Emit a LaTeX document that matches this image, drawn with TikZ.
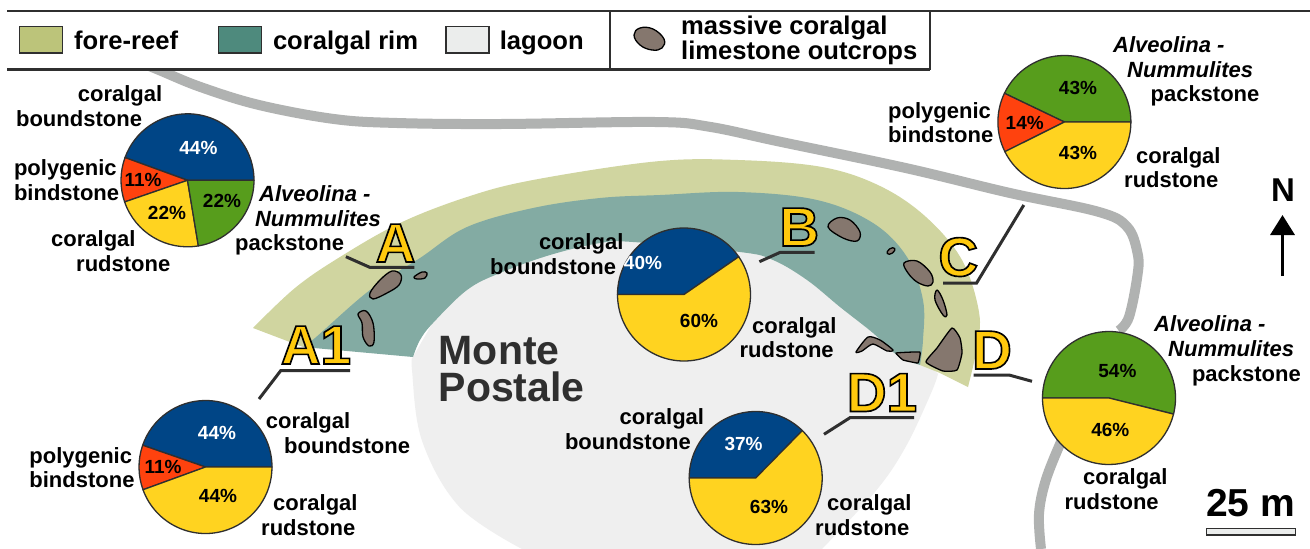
\documentclass[tikz,border=0pt]{standalone}
\usepackage{fontspec}
\setmainfont{Liberation Sans}
\usetikzlibrary{arrows.meta}
\definecolor{fore}{HTML}{D0D5A0}
\definecolor{rim}{HTML}{83ABA3}
\definecolor{lag}{HTML}{EFEFEF}
\definecolor{foreL}{HTML}{BCC47A}
\definecolor{rimL}{HTML}{4E8A7D}
\definecolor{lagL}{HTML}{EBEDEC}
\definecolor{road}{HTML}{B0B2B1}
\definecolor{rock}{HTML}{85776E}
\definecolor{dk}{HTML}{2F2F2F}
\definecolor{pblue}{HTML}{004586}
\definecolor{pred}{HTML}{FF420E}
\definecolor{pyel}{HTML}{FFD320}
\definecolor{pgreen}{HTML}{579D1C}
\newfontfamily\outfont[BoldFeatures={FakeBold=3}]{Liberation Sans}
\newcommand{\outl}[1]{{\outfont\bfseries\fontsize{55}{55}\selectfont\special{pdf:bcolor [1 0.79 0.05] [0 0 0]}#1\special{pdf:ecolor}}}
\newcommand{\piesl}[5]{\filldraw[fill=#5,pieline] (#1) -- +(-#2:#4) arc (-#2:-#3:#4) -- cycle;}
\tikzset{
  x=1pt,y=-1pt,
  lbl/.style={anchor=base west,inner sep=0pt,font=\fontsize{22}{24}\selectfont\bfseries},
  lgd/.style={anchor=base west,inner sep=0pt,font=\fontsize{25.6}{28}\selectfont\bfseries},
  pct/.style={anchor=center,inner sep=0pt,font=\fontsize{19}{20}\selectfont\bfseries},
  pctw/.style={pct,text=white},
  letter/.style={anchor=base,inner sep=0pt},
  pieline/.style={draw=dk,line width=1.3pt,line join=round},
  rockst/.style={fill=rock,draw=black,line width=1.3pt,line join=round},
  swatch/.style={draw=dk,line width=1.5pt},
  callout/.style={draw=dk,line width=3pt},
  frame/.style={draw=dk,line width=2pt},
  roadst/.style={draw=road,line width=10pt},
}
\begin{document}
\begin{tikzpicture}
\useasboundingbox (0,0) rectangle (1310,549);
\fill[white] (0,0) rectangle (1310,549);
% map
\fill[lag] (413,357) -- plot[smooth,tension=.6] coordinates {(413,357) (412,370) (422,440.7) (459.5,507) (522,549)} -- (822,549) -- plot[smooth,tension=.6] coordinates {(822,549) (876,490.7) (905.6,447) (930.7,394) (938,374)} -- (920,355) -- (840,295) -- (740,240) -- (600,230) -- (500,260) -- (440,310) -- cycle;
\fill[fore] plot[smooth,tension=.6] coordinates {(253,328) (295,288) (340,257) (400,223) (467,197) (533,180) (655,161.5) (738,160) (822,167) (880,186) (926,217) (962,260) (979,312) (977,347) (968,387)} -- (940,373) -- (920,365) -- (880,290) -- (700,220) -- (500,240) -- (380,310) -- (303,347) -- cycle;
\fill[rim] plot[smooth,tension=.6] coordinates {(303,347) (315,338) (370,290) (420,258) (467,227) (533,208) (600,198) (660,195) (738.5,192) (817,200) (873,223) (907,257) (923,300) (923,340) (920,365)} -- plot[smooth,tension=.6] coordinates {(920,365) (897,355) (873,333) (840,307) (807,280) (773,260) (740,252) (633,242) (600,243) (550,255) (500,273) (467,290) (433,323) (420,340) (413,357)} -- cycle;
% road
\begin{scope}
\clip (0,70) rectangle (1310,549);
\draw[roadst] plot[smooth,tension=.6] coordinates {(130,58) (159,70) (200.5,87) (259,105) (334,119) (397,123) (501,124) (655,122) (709,126.7) (780,141.7) (905.6,168) (1010,193) (1098,211.7) (1127,226.7) (1137.5,253) (1137.5,275) (1129,317) (1118.7,330.7)};
\end{scope}
\draw[roadst] plot[smooth,tension=.6] coordinates {(1065,435) (1060,444) (1045.6,480.7) (1039,514) (1041,549)};
% rocks
\draw[rockst] plot[smooth cycle,tension=.6] coordinates {(370,293) (380,280) (392,271) (401,275) (399,285) (387,293) (373,299)};
\draw[rockst] plot[smooth cycle,tension=.6] coordinates {(414,277) (422,272) (427,273) (425,278) (417,279)};
\draw[rockst] plot[smooth cycle,tension=.6] coordinates {(358,314) (366,311) (373,323) (374,342) (369,346) (363,337) (362,323)};
\draw[rockst] plot[smooth cycle,tension=.6] coordinates {(828,227) (837,218) (850,220) (860,232) (857,241) (843,238)};
\draw[rockst,rotate around={35:(891,251)}] (891,251) ellipse (4.5 and 2.5);
\draw[rockst] plot[smooth cycle,tension=.6] coordinates {(904,263) (917,261) (930,272) (933,282) (928,286) (917,282) (908,273)};
\draw[rockst] plot[smooth cycle,tension=.6] coordinates {(937,290) (943,300) (947,315) (943,315) (935,300)};
\draw[rockst] plot[smooth cycle,tension=.3] coordinates {(926,362) (937,348) (952,328) (960,338) (962,353) (957,370) (943,371)};
\draw[rockst] plot[smooth cycle,tension=.4] coordinates {(856,352) (868,337) (880,340) (893,350) (887,351) (873,344) (862,351)};
\draw[rockst] plot[smooth cycle,tension=.15] coordinates {(896,353) (920,352) (918,363) (903,360)};
\draw[rockst] plot[smooth cycle,tension=.7] coordinates {(634,35) (640,28) (653,29) (664,39) (662,48) (652,50) (640,45)};
% legend frame
\coordinate (ftl) at (7,10.5); \coordinate (ftr) at (1310,10.5);
\coordinate (fbl) at (7,69.7); \coordinate (fbr) at (929.5,69.7);
\coordinate (fm1) at (610,10.5); \coordinate (fm2) at (610,69.7);
\coordinate (fe1) at (929.5,10.5);
\draw[frame] (ftl) -- (ftr);
\draw[frame,line width=3pt] (fbl) -- (fbr);
\draw[frame] (fm1) -- (fm2);
\draw[frame] (fe1) -- (fbr);
\draw[swatch,fill=foreL] (19.6,26.7) rectangle (62.7,53);
\draw[swatch,fill=rimL] (218.5,26.7) rectangle (261.5,53);
\draw[swatch,fill=lagL] (446,26.7) rectangle (489,53);
\node[lgd] (l1) at (74,49) {fore-reef};
\node[lgd] (l2) at (272.8,49) {coralgal rim};
\node[lgd] (l3) at (499.6,49) {lagoon};
\node[lgd] (l4) at (681,34) {massive coralgal};
\node[lgd] (l5) at (681,59) {limestone outcrops};
% callouts
\coordinate (a1) at (345.9,256.7); \coordinate (a2) at (369.7,267.3); \coordinate (a3) at (414.4,267.3);
\coordinate (b1) at (759.4,261.7); \coordinate (b2) at (780.3,252.3); \coordinate (b3) at (814.6,252.3);
\coordinate (c1) at (1023.8,205); \coordinate (c2) at (976.6,283); \coordinate (c3) at (943,283);
\coordinate (d1) at (973.7,375); \coordinate (d2) at (1009,375); \coordinate (d3) at (1032,381.3);
\coordinate (e1) at (824,434.3); \coordinate (e2) at (850,417.7); \coordinate (e3) at (914,417.7);
\coordinate (f1) at (259,399); \coordinate (f2) at (280.7,370.7); \coordinate (f3) at (350,370.7);
\draw[callout] (a1) -- (a2) -- (a3);
\draw[callout] (b1) -- (b2) -- (b3);
\draw[callout] (c1) -- (c2) -- (c3);
\draw[callout] (d1) -- (d2) -- (d3);
\draw[callout] (e1) -- (e2) -- (e3);
\draw[callout] (f1) -- (f2) -- (f3);
% pies
\coordinate (pa) at (187.5,180.3);
\piesl{pa}{0}{160}{66.5}{pblue}\piesl{pa}{160}{199}{66.5}{pred}\piesl{pa}{199}{279.4}{66.5}{pyel}\piesl{pa}{279.4}{360}{66.5}{pgreen}
\coordinate (pc) at (1064.4,122);
\piesl{pc}{0}{154.4}{66.5}{pgreen}\piesl{pc}{154.4}{206.5}{66.5}{pred}\piesl{pc}{206.5}{360}{66.5}{pyel}
\coordinate (pb) at (684,294.5);
\piesl{pb}{34.6}{180}{66.5}{pblue}\piesl{pb}{180}{394.6}{66.5}{pyel}
\coordinate (pe) at (755.7,478);
\piesl{pe}{45.5}{180}{66.5}{pblue}\piesl{pe}{180}{405.5}{66.5}{pyel}
\coordinate (pd) at (1109,398);
\piesl{pd}{-14}{180}{66.5}{pgreen}\piesl{pd}{180}{346}{66.5}{pyel}
\coordinate (pf) at (205.5,467);
\piesl{pf}{0}{160.9}{66.5}{pblue}\piesl{pf}{160.9}{200}{66.5}{pred}\piesl{pf}{200}{360}{66.5}{pyel}
% percentages
\node[pctw] (v1) at (198.4,147.7) {44\%};
\node[pct] (v2) at (143,180) {11\%};
\node[pct] (v3) at (167,213) {22\%};
\node[pct] (v4) at (222,201) {22\%};
\node[pct] (v5) at (1078,88) {43\%};
\node[pct] (v6) at (1024.7,123.3) {14\%};
\node[pct] (v7) at (1078,152.7) {43\%};
\node[pctw] (v8) at (643,263) {40\%};
\node[pct] (v9) at (699,320.7) {60\%};
\node[pctw] (v10) at (743.6,444) {37\%};
\node[pct] (v11) at (769,506.7) {63\%};
\node[pct] (v12) at (1117.4,371.3) {54\%};
\node[pct] (v13) at (1110.3,430) {46\%};
\node[pctw] (v14) at (217,433) {44\%};
\node[pct] (v15) at (163,467.3) {11\%};
\node[pct] (v16) at (218,496.3) {44\%};
% labels
\node[lbl] (t1) at (77.7,101.7) {coralgal};
\node[lbl] (t2) at (15.9,126.7) {boundstone};
\node[lbl] (t3) at (13.8,175.7) {polygenic};
\node[lbl] (t4) at (13.8,200) {bindstone};
\node[lbl] (t5) at (51,246.7) {coralgal};
\node[lbl] (t6) at (76,271.7) {rudstone};
\node[lbl] (t7) at (259,201) {\itshape Alveolina -};
\node[lbl] (t8) at (254.8,226) {\itshape Nummulites};
\node[lbl] (t9) at (235,250.7) {packstone};
\node[lbl] (t10) at (538.8,249.3) {coralgal};
\node[lbl] (t11) at (490,274) {boundstone};
\node[lbl] (t12) at (751.9,333) {coralgal};
\node[lbl] (t13) at (739.4,357.3) {rudstone};
\node[lbl] (t14) at (888,118.3) {polygenic};
\node[lbl] (t15) at (888,142.7) {bindstone};
\node[lbl] (t16) at (1113,52.3) {\itshape Alveolina -};
\node[lbl] (t17) at (1127,77.3) {\itshape Nummulites};
\node[lbl] (t18) at (1150.4,101.7) {packstone};
\node[lbl] (t19) at (1136,163.3) {coralgal};
\node[lbl] (t20) at (1124,187.7) {rudstone};
\node[lbl] (t21) at (29.2,463.3) {polygenic};
\node[lbl] (t22) at (29.2,487.3) {bindstone};
\node[lbl] (t23) at (265.7,428.3) {coralgal};
\node[lbl] (t24) at (284,453) {boundstone};
\node[lbl] (t25) at (273,510.7) {coralgal};
\node[lbl] (t26) at (261,535.7) {rudstone};
\node[lbl] (t27) at (619.5,424) {coralgal};
\node[lbl] (t28) at (564.8,449) {boundstone};
\node[lbl] (t29) at (827,510.7) {coralgal};
\node[lbl] (t30) at (815,535) {rudstone};
\node[lbl] (t31) at (1154,331.7) {\itshape Alveolina -};
\node[lbl] (t32) at (1168,356.3) {\itshape Nummulites};
\node[lbl] (t33) at (1191.8,381.3) {packstone};
\node[lbl] (t34) at (1083,484) {coralgal};
\node[lbl] (t35) at (1064.4,509) {rudstone};
% Monte Postale
\node[anchor=base west,inner sep=0pt,text=dk,font=\fontsize{41}{41}\selectfont\bfseries] (m1) at (438.6,364) {Monte};
\node[anchor=base west,inner sep=0pt,text=dk,font=\fontsize{41}{41}\selectfont\bfseries] (m2) at (438.6,401.7) {Postale};
% letters
\node[letter] (La) at (395.6,262) {\outl{A}};
\node[letter] (Lb) at (799.3,246) {\outl{B}};
\node[letter] (Lc) at (958.3,276) {\outl{C}};
\node[letter] (Ld) at (992,369) {\outl{D}};
\node[letter] (Le) at (882,411.5) {\outl{D1}};
\node[letter] (Lf) at (316,364) {\outl{A1}};
% north
\node[anchor=base,inner sep=0pt,font=\fontsize{33}{33}\selectfont\bfseries] (north) at (1283,201.7) {N};
\coordinate (n1) at (1282.5,276); \coordinate (n2) at (1282.5,215);
\draw[line width=3.5pt,black,-{Triangle[length=20pt,width=24pt]}] (n1) -- (n2);
% scale
\node[anchor=base west,inner sep=0pt,font=\fontsize{39}{39}\selectfont\bfseries] (sc) at (1206,516) {25 m};
\draw[swatch,fill=lagL] (1206.4,528.3) rectangle (1295.4,535);
\end{tikzpicture}
\end{document}
